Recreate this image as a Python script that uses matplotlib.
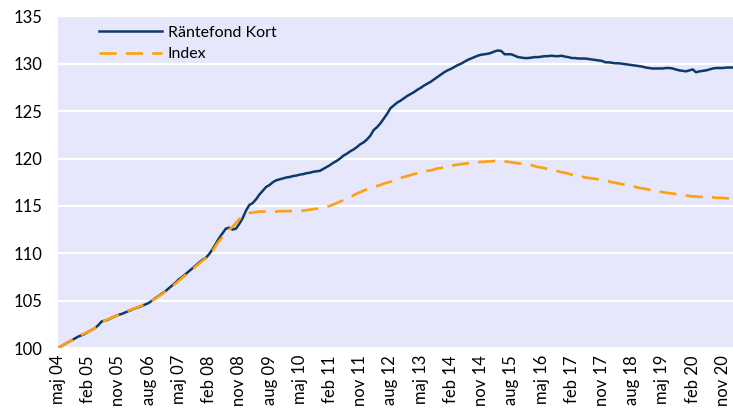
import matplotlib.pyplot as plt

plt.rcParams['font.family'] = ['Lato', 'DejaVu Sans']

# månadsdata från maj 2004
kort = [
    100.0, 100.2, 100.4, 100.6, 100.8, 101.0, 101.2, 101.35, 101.5, 101.7,
    101.9, 102.1, 102.4, 102.8, 102.9, 103.0, 103.2, 103.35, 103.5, 103.6,
    103.75, 103.9, 104.05, 104.2, 104.3, 104.45, 104.6, 104.75, 105.0, 105.25,
    105.5, 105.75, 106.0, 106.3, 106.6, 106.9, 107.25, 107.5, 107.8, 108.1,
    108.4, 108.7, 109.0, 109.3, 109.5, 109.9, 110.4, 111.0, 111.6, 112.1,
    112.6, 112.7, 112.5, 112.6, 113.1, 113.7, 114.5, 115.1, 115.3, 115.7,
    116.2, 116.6, 117.0, 117.2, 117.5, 117.7, 117.8, 117.9, 118.0, 118.05,
    118.15, 118.2, 118.3, 118.35, 118.45, 118.5, 118.6, 118.65, 118.7, 118.9,
    119.1, 119.3, 119.55, 119.75, 120.0, 120.3, 120.5, 120.75, 120.95, 121.2,
    121.5, 121.7, 122.0, 122.4, 123.0, 123.3, 123.7, 124.2, 124.7, 125.3,
    125.6, 125.9, 126.1, 126.35, 126.6, 126.8, 127.0, 127.25, 127.45, 127.7,
    127.9, 128.1, 128.35, 128.6, 128.85, 129.1, 129.3, 129.45, 129.65, 129.85,
    130.0, 130.2, 130.4, 130.55, 130.7, 130.85, 130.95, 131.0, 131.05, 131.15,
    131.3, 131.4, 131.35, 131.0, 131.0, 131.0, 130.85, 130.7, 130.65, 130.6,
    130.6, 130.65, 130.7, 130.7, 130.75, 130.8, 130.8, 130.85, 130.8, 130.8,
    130.85, 130.75, 130.7, 130.6, 130.6, 130.55, 130.55, 130.55, 130.5, 130.45,
    130.4, 130.35, 130.3, 130.15, 130.15, 130.1, 130.05, 130.05, 130.0, 129.95,
    129.9, 129.85, 129.8, 129.75, 129.7, 129.6, 129.55, 129.5, 129.5, 129.5,
    129.5, 129.55, 129.55, 129.5, 129.4, 129.3, 129.25, 129.2, 129.3, 129.4,
    129.1, 129.2, 129.25, 129.3, 129.4, 129.5, 129.55, 129.55, 129.55, 129.6,
    129.6, 129.6,
]

index = [
    100.0, 100.2, 100.4, 100.6, 100.8, 101.0, 101.2, 101.4, 101.55, 101.7,
    101.9, 102.1, 102.4, 102.75, 102.9, 103.05, 103.2, 103.35, 103.5, 103.65,
    103.8, 103.95, 104.1, 104.2, 104.35, 104.5, 104.65, 104.8, 105.0, 105.2,
    105.45, 105.7, 105.95, 106.2, 106.5, 106.8, 107.1, 107.4, 107.7, 108.0,
    108.3, 108.6, 108.9, 109.2, 109.45, 109.75, 110.2, 110.8, 111.3, 111.7,
    112.1, 112.5, 112.8, 113.2, 113.6, 113.9, 114.1, 114.25, 114.3, 114.35,
    114.4, 114.4, 114.4, 114.4, 114.4, 114.4, 114.45, 114.45, 114.45, 114.45,
    114.5, 114.5, 114.5, 114.5, 114.55, 114.6, 114.65, 114.7, 114.75, 114.8,
    114.9, 115.0, 115.15, 115.3, 115.45, 115.6, 115.8, 115.95, 116.1, 116.3,
    116.45, 116.6, 116.75, 116.85, 116.95, 117.1, 117.2, 117.35, 117.45, 117.55,
    117.7, 117.8, 117.95, 118.05, 118.15, 118.25, 118.35, 118.45, 118.5, 118.6,
    118.7, 118.75, 118.85, 118.95, 119.0, 119.05, 119.15, 119.2, 119.3, 119.35,
    119.4, 119.45, 119.5, 119.55, 119.6, 119.6, 119.65, 119.65, 119.7, 119.7,
    119.75, 119.75, 119.75, 119.7, 119.65, 119.6, 119.55, 119.5, 119.45, 119.4,
    119.35, 119.3, 119.2, 119.1, 119.05, 118.95, 118.9, 118.8, 118.75, 118.65,
    118.55, 118.5, 118.4, 118.3, 118.25, 118.15, 118.1, 118.0, 117.95, 117.9,
    117.85, 117.8, 117.7, 117.65, 117.6, 117.5, 117.45, 117.35, 117.3, 117.2,
    117.15, 117.05, 117.0, 116.9, 116.85, 116.8, 116.7, 116.65, 116.6, 116.5,
    116.45, 116.4, 116.35, 116.3, 116.25, 116.2, 116.15, 116.1, 116.05, 116.0,
    116.0, 115.95, 115.95, 115.9, 115.9, 115.9, 115.85, 115.85, 115.85, 115.8,
    115.8, 115.8,
]

tick_labels = ['maj 04', 'feb 05', 'nov 05', 'aug 06', 'maj 07', 'feb 08',
               'nov 08', 'aug 09', 'maj 10', 'feb 11', 'nov 11', 'aug 12',
               'maj 13', 'feb 14', 'nov 14', 'aug 15', 'maj 16', 'feb 17',
               'nov 17', 'aug 18', 'maj 19', 'feb 20', 'nov 20']

months = list(range(len(kort)))

fig = plt.figure(figsize=(7.33, 4.09), dpi=100)
ax = fig.add_axes([0.079, 0.149, 0.921, 0.811])
ax.set_facecolor('#E6E7FA')

ax.plot(months, kort, color='#0E3A6B', linewidth=1.8, label='Räntefond Kort')
ax.plot(months, index, color='#FFA010', linewidth=1.9, dashes=(6.5, 3.5),
        label='Index')

ax.set_xlim(0, len(kort) - 1)
ax.set_ylim(100, 135)
ax.set_yticks(range(100, 136, 5))
ax.set_xticks(range(0, 9 * len(tick_labels), 9))
ax.set_xticklabels(tick_labels, rotation=90)
ax.tick_params(axis='both', length=0, labelsize=12, labelcolor='black')
ax.tick_params(axis='y', pad=11)
ax.tick_params(axis='x', pad=5)
ax.grid(axis='y', color='white', linewidth=1.5)
ax.set_axisbelow(True)
for s in ax.spines.values():
    s.set_visible(False)

ax.legend(loc='upper left', bbox_to_anchor=(0.04, 1.015), frameon=False,
          fontsize=11.5, handlelength=3.9, labelspacing=0.45, handletextpad=0.4)

fig.savefig('out.png')
